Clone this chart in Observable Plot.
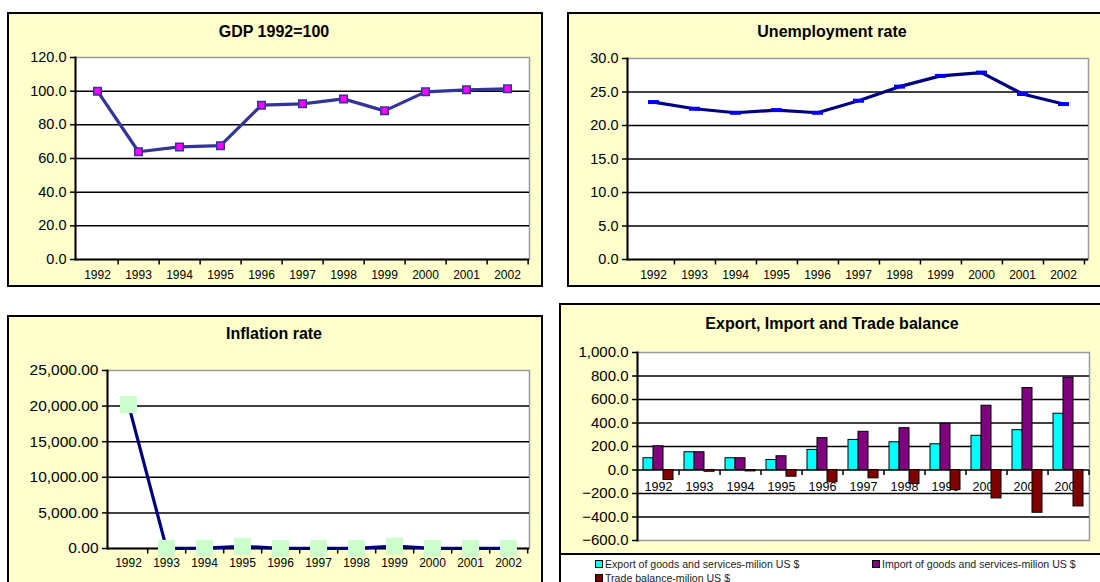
<!DOCTYPE html>
<html><head><meta charset="utf-8">
<script src="https://cdn.jsdelivr.net/npm/d3@7"></script>
<script src="https://cdn.jsdelivr.net/npm/@observablehq/plot@0.6"></script>
<style>
html,body{margin:0;padding:0;background:#fff;overflow:hidden;width:1100px;height:582px;}
body{position:relative;font-family:Arial,"Liberation Sans",sans-serif;}
.panel{position:absolute;background:#ffffcc;border:2px solid #000;box-sizing:border-box;}
.title{position:absolute;font-weight:bold;font-size:16px;white-space:nowrap;transform:translate(-50%,-50%);color:#000;}
.chart{position:absolute;}
.legend{position:absolute;left:0;right:0;background:#fff;border-top:2px solid #000;height:40px;font-size:10.6px;color:#222;}
.li{position:absolute;white-space:nowrap;display:flex;align-items:center;}
.sw{display:inline-block;width:6px;height:6px;border:1px solid #000;margin-right:2px;}
</style></head><body>
<script>
const years = ["1992","1993","1994","1995","1996","1997","1998","1999","2000","2001","2002"];
const gdp = [100, 64.0, 66.9, 67.6, 91.7, 92.5, 95.4, 88.3, 99.6, 100.8, 101.4];
const unemployment = [23.5, 22.5, 21.9, 22.3, 21.9, 23.7, 25.8, 27.4, 27.9, 24.7, 23.2];
const inflation = [20200, 20, 40, 300, 20, 20, 10, 350, 10, 10, 10];
const exportsUS = [100, 151, 100, 85, 171, 256, 236, 219, 291, 339, 479];
const importsUS = [202, 151, 100, 117, 271, 325, 356, 393, 547, 698, 786];
const tradeBalance = [-85, -15, -12, -57, -105, -71, -120, -171, -242, -364, -310];
const gdpTicks = [0, 20, 40, 60, 80, 100, 120];
const unempTicks = [0, 5, 10, 15, 20, 25, 30];
const inflTicks = [0, 5000, 10000, 15000, 20000, 25000];
const tradeTicks = [-600, -400, -200, 0, 200, 400, 600, 800, 1000];
const titles = ["GDP 1992=100", "Unemployment rate", "Inflation rate", "Export, Import and Trade balance"];
const legendLabels = ["Export of goods and services-milion US $", "Import of goods and services-milion US $", "Trade balance-milion US $"];

const FONT = "Arial, 'Liberation Sans', sans-serif";
const vtick = {draw(ctx){ ctx.moveTo(0,0); ctx.lineTo(0,5); }};
const square = s => ({draw(ctx){ ctx.rect(-s/2,-s/2,s,s); }});
const dash = {draw(ctx){ ctx.rect(-5.5,-2,11,4); }};

function addDiv(cls, css, html, parent) {
  const d = document.createElement("div");
  d.className = cls;
  Object.assign(d.style, css);
  if (html != null) d.textContent = html;
  (parent || document.body).appendChild(d);
  return d;
}
function px(v){ return v + "px"; }

function linePanel(o) {
  const rows = years.map((y, i) => ({year: y, value: o.values[i]}));
  const ymin = o.ticks[0], ymax = o.ticks[o.ticks.length - 1];
  const step = (o.w - o.ml - o.mr) / years.length;
  const marks = [
    Plot.frame({fill: "white", stroke: "#9a9a9a", strokeWidth: 1.5}),
    Plot.ruleY(o.ticks.filter(t => t !== ymax && t !== ymin), {stroke: "#000", strokeWidth: 1.5}),
    Plot.axisY({ticks: o.ticks, tickFormat: o.fmt, tickSize: 5, tickPadding: 4, fontSize: o.yFont, strokeWidth: 1.5}),
    Plot.axisX({tickSize: 0, tickPadding: o.xPad, fontSize: 12}),
    Plot.dot(years, {x: d => d, y: () => ymin, dx: step / 2, symbol: vtick, stroke: "#000", strokeWidth: 1.5, fill: "none"}),
    Plot.frame({anchor: "left", stroke: "#000", strokeWidth: 2}),
    Plot.ruleY([ymin], {stroke: "#000", strokeWidth: 2}),
    Plot.line(rows, {x: "year", y: "value", stroke: o.lineColor, strokeWidth: 3.2}),
    Plot.dot(rows, {x: "year", y: "value", symbol: o.marker, fill: o.markerFill, stroke: o.markerStroke, strokeWidth: o.markerStrokeWidth || 0})
  ];
  const svg = Plot.plot({
    width: o.w, height: o.h,
    marginLeft: o.ml, marginRight: o.mr, marginTop: o.mt, marginBottom: o.mb,
    x: {type: "point", domain: years, padding: 0.5, label: null},
    y: {domain: [ymin, ymax], label: null},
    style: {background: "transparent", fontFamily: FONT, color: "#000", overflow: "visible"},
    marks
  });
  svg.style.position = "absolute";
  svg.style.left = px(o.left);
  svg.style.top = px(o.top);
  document.body.appendChild(svg);
}

// Panel boxes
addDiv("panel", {left: px(7), top: px(12), width: px(536), height: px(275)});
addDiv("panel", {left: px(567), top: px(12), width: px(545), height: px(275)});
addDiv("panel", {left: px(7), top: px(315), width: px(536), height: px(280)});
const p4 = addDiv("panel", {left: px(559), top: px(303), width: px(553), height: px(290)});

// Panel 1: GDP
linePanel({left: 7, top: 12, w: 536, h: 275, ml: 68, mr: 14, mt: 45, mb: 28,
  values: gdp, ticks: gdpTicks, fmt: d3.format(".1f"), yFont: 14.5, xPad: 11,
  lineColor: "#333399", marker: square(7.5), markerFill: "#ff00ff", markerStroke: "#333399", markerStrokeWidth: 1.5});

// Panel 2: Unemployment
linePanel({left: 567, top: 12, w: 535, h: 275, ml: 60, mr: 14, mt: 46, mb: 28,
  values: unemployment, ticks: unempTicks, fmt: d3.format(".1f"), yFont: 14.5, xPad: 11,
  lineColor: "#000080", marker: dash, markerFill: "#0000ff", markerStroke: "none"});

// Panel 3: Inflation
linePanel({left: 7, top: 315, w: 536, h: 270, ml: 100, mr: 14, mt: 55, mb: 37,
  values: inflation, ticks: inflTicks, fmt: d3.format(",.2f"), yFont: 15.5, xPad: 10,
  lineColor: "#000080", marker: square(17), markerFill: "#ccffcc", markerStroke: "none"});

// Panel 4: Trade
(function(){
  const w = 543, h = 250, ml = 78, mr = 13, mt = 49, mb = 13;
  const step = (w - ml - mr) / years.length;
  const pin = 0.27;
  const bw = step * (1 - pin);
  const third = bw / 3;
  const rows = years.map((y, i) => ({year: y, exp: exportsUS[i], imp: importsUS[i], bal: tradeBalance[i]}));
  const svg = Plot.plot({
    width: w, height: h, marginLeft: ml, marginRight: mr, marginTop: mt, marginBottom: mb,
    x: {type: "band", domain: years, paddingInner: pin, paddingOuter: pin / 2, label: null, axis: null},
    y: {domain: [-600, 1000], label: null},
    style: {background: "transparent", fontFamily: FONT, color: "#000", overflow: "visible"},
    marks: [
      Plot.frame({fill: "white", stroke: "#9a9a9a", strokeWidth: 1.5}),
      Plot.ruleY(tradeTicks.filter(t => t !== 1000 && t !== -600), {stroke: "#000", strokeWidth: 1.5}),
      Plot.axisY({ticks: tradeTicks, tickFormat: d3.format(",.1f"), tickSize: 5, tickPadding: 4, fontSize: 15, strokeWidth: 1.5}),
      Plot.text(years, {x: d => d, y: () => 0, dy: 17, fontSize: 12.5, fill: "#000"}),
      Plot.barY(rows, {x: "year", y: "exp", fill: "#00ffff", stroke: "#000", strokeWidth: 1, insetRight: 2 * third}),
      Plot.barY(rows, {x: "year", y: "imp", fill: "#800080", stroke: "#000", strokeWidth: 1, insetLeft: third, insetRight: third}),
      Plot.barY(rows, {x: "year", y: "bal", fill: "#800000", stroke: "#000", strokeWidth: 1, insetLeft: 2 * third}),
      Plot.dot(years, {x: d => d, y: () => 0, dx: step / 2, symbol: vtick, stroke: "#000", strokeWidth: 1.5, fill: "none"}),
      Plot.frame({anchor: "left", stroke: "#000", strokeWidth: 2})
    ]
  });
  svg.style.position = "absolute";
  svg.style.left = px(559);
  svg.style.top = px(303);
  document.body.appendChild(svg);
})();

// Titles
addDiv("title", {left: px(274), top: px(32)}, titles[0]);
addDiv("title", {left: px(832), top: px(32)}, titles[1]);
addDiv("title", {left: px(274), top: px(334)}, titles[2]);
addDiv("title", {left: px(832), top: px(324)}, titles[3]);

// Legend
const leg = addDiv("legend", {top: px(248)}, null, p4);
const legColors = ["#00ffff", "#800080", "#800000"];
const legPos = [[34, 3], [311, 3], [34, 17]];
legendLabels.forEach((lab, i) => {
  const it = addDiv("li", {left: px(legPos[i][0]), top: px(legPos[i][1])}, null, leg);
  const sw = document.createElement("span");
  sw.className = "sw";
  sw.style.background = legColors[i];
  it.appendChild(sw);
  const t = document.createElement("span");
  t.textContent = lab;
  it.appendChild(t);
});
</script>
</body></html>
